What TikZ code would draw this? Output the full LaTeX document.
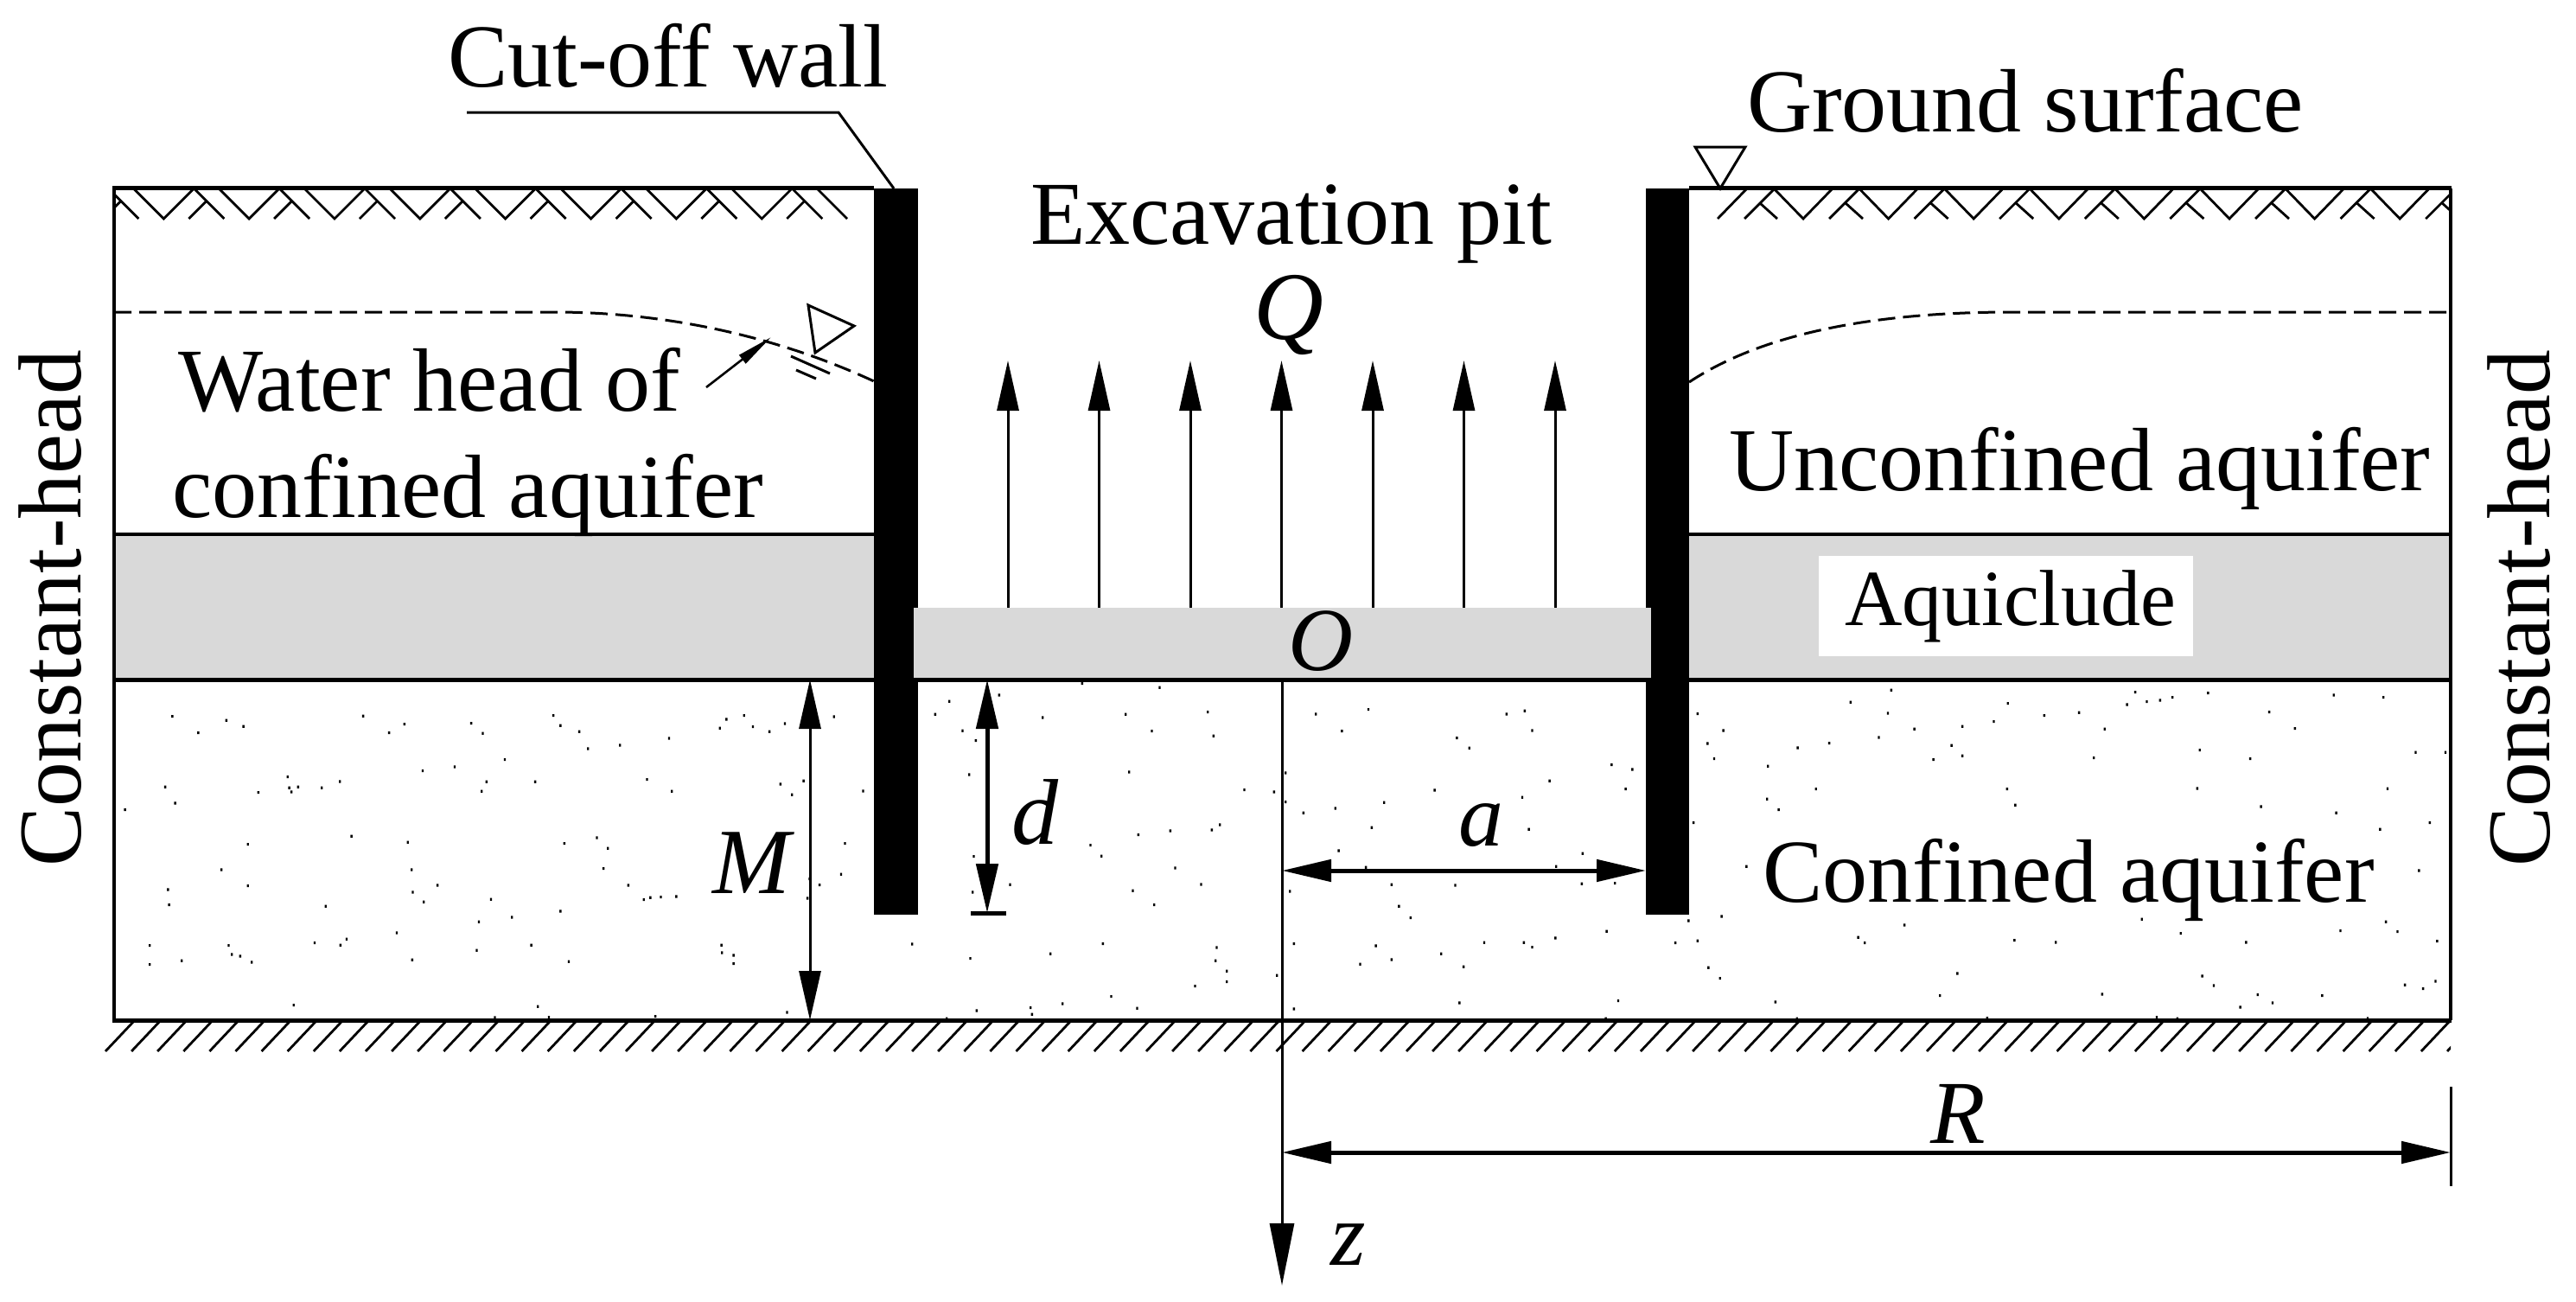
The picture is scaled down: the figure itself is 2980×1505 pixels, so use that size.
\documentclass[tikz,border=0pt]{standalone}
\usepackage{fontspec}
\setmainfont{Liberation Serif}
\usetikzlibrary{arrows.meta}
\definecolor{aqgray}{HTML}{D9D9D9}
\tikzset{
  lab/.style={inner sep=0pt,outer sep=0pt,anchor=base west,font=\fontsize{104}{110}\selectfont},
  labc/.style={lab,anchor=base,font=\fontsize{103.5}{110}\selectfont},
  ital/.style={inner sep=0pt,outer sep=0pt,anchor=base west,font=\fontsize{104}{110}\selectfont\itshape},
  frameline/.style={line width=3.5pt,black},
  layerline/.style={line width=5pt,black},
  groundhatch/.style={line width=2.8pt,black},
  bedhatch/.style={line width=2.8pt,black},
  wallblock/.style={fill=black,draw=none},
  aqblock/.style={fill=aqgray,draw=none},
  wtable/.style={line width=3pt,dash pattern=on 20pt off 9pt},
  wmark/.style={line width=3pt,line join=miter},
  qarrow/.style={line width=3pt,-{Triangle[length=58pt,width=25pt]}},
  dimthin/.style={line width=3pt,{Triangle[length=57pt,width=25pt]}-{Triangle[length=57pt,width=25pt]}},
  dimthick/.style={line width=5pt,{Triangle[length=57pt,width=25pt]}-{Triangle[length=57pt,width=25pt]}}
}
\begin{document}
\begin{tikzpicture}[x=1pt,y=-1pt]
\useasboundingbox (0,0) rectangle (2980,1505);
\fill[white] (0,0) rectangle (2980,1505);

% soil speckle
\begin{scope}[shift={(100,750)},x=0.63776pt,y=-0.33333pt]
\fill \foreach \p/\q in {154/231,252/245,283/266,201/288,500/230,575/258,547/288,696/255,717/290,845/228,858/263,892/284,908/343,966/331,1055/307,1147/272,1159/241,1191/228,1207/267,1237/284,1265/256,1354/232,757/381,666/406,608/420,363/441,458/457,425/479,382/476,366/479,370/493,310/495,141/476,159/532,68/555,724/458,715/491,812/458,1015/450,1060/491,1257/466,1299/455,1278/503,1407/490,479/647,581/668,291/675,865/672,924/652,944/689,1374/672,243/763,588/763,936/759,1367/779,291/819,635/817,981/817,1328/816,146/832,590/841,1068/856,1040/858,1021/860,1009/867,1306/862,148/885,432/890,610/875,732/866,858/907,770/928,710/944,561/982,470/1004,412/1017,459/1025,113/1026,256/1026,805/1025,1150/1025,1151/1051,1172/1060,706/1043,262/1057,277/1063,298/1084,171/1079,113/1092,589/1076,873/1082,1172/1089,374/1233,817/1238,1269/1258,739/1276,837/1275,1030/1272,1310/795} {(\p,\q) rectangle ++(2.4pt,-3.2pt)};
\end{scope}
\begin{scope}[shift={(1050,680)},x=0.33333pt,y=-0.33333pt]
\fill \foreach \p/\q in {141/389,92/434,314/367,187/491,233/525,465/445,602/327,871/341,753/434,844/492,1038/426,1058/509,210/643,765/634,1165/696,1268/703,1308/637,1308/738,1370/776,1413/433,1080/817,1052/835,908/838,797/852,631/888,669/926,226/927,925/967,352/1025,222/1051,1015/1024,778/1046,1323/1048,852/1095,12/1231,214/1281,492/1265,674/1230,1069/1243,1065/1289,1104/1325,1104/1362,1278/1340,1337/1230,994/1377,703/1413,534/1438,423/1452,428/1475,236/1462,132/1490,793/1454,1337/1456} {(\p,\q) rectangle ++(2.4pt,-3.2pt)};
\end{scope}
\begin{scope}[shift={(1400,750)},x=0.95694pt,y=-0.33333pt]
\fill \foreach \p/\q in {190/207,158/282,357/223,379/212,388/280,297/306,312/341,484/399,509/415,409/455,270/487,501/483,376/512,209/530,150/550,194/617,384/623,154/697,449/707,417/752,187/755,218/815,295/817,448/812,488/810,227/890,241/930,478/977,416/1000,330/1016,378/1016,388/1032,199/1027,278/1055,218/1075,180/1091,305/1100,300/1225,492/1218,561/1017,588/1010,577/940,617/925,588/222,619/280,600/325,608/378,673/404,672/518,686/555,731/483,583/600,647/752,709/340,747/324,807/304,850/275,908/266,946/249,1007/228,1049/218,818/220,773/182,822/140,963/186,1107/190,1131/180,1147/175,1162/165,1117/147,1205/150,1080/275,1279/216,1310/273,1357/157,1417/165,895/332,873/381,908/368,1067/375,1195/348,1256/378,1456/356,1492/356,962/483,972/539,1192/481,1422/482,1269/544,1360/566,1473/600,1413/623,1460/766,838/955,1125/935,1172/984,1365/975,1420/944,1434/978,782/998,790/1017,971/1008,1021/1015,1251/1015,1482/1011,601/1103,615/1140,902/1123,1198/1132,1212/1165,1480/1150,1443/1163,1465/1176,881/1200,1077/1195,1265/1197,1343/1200,1283/1225,1244/1240,682/1222,708/1280,938/1278,1143/1275,1168/1280,1398/1279,477/1280} {(\p,\q) rectangle ++(2.4pt,-3.2pt)};
\end{scope}

% walls
\fill[wallblock] (1011,218) rectangle (1062,1058);
\fill[wallblock] (1904,218) rectangle (1954,1058);

% aquiclude
\fill[aqblock] (133,618) rectangle (1011,785);
\fill[aqblock] (1954,618) rectangle (2834,785);
\fill[aqblock] (1057,703) rectangle (1910,784);
\fill[white] (2104,643) rectangle (2537,759);

% frame and layers
\draw[frameline] (132,218) -- (132,1180);
\draw[frameline] (2835,218) -- (2835,1180);
\draw[layerline] (130,217) -- (1011,217);
\draw[layerline] (1954,217) -- (2836,217);
\draw[line width=4pt] (133,618) -- (1011,618);
\draw[line width=4pt] (1954,618) -- (2834,618);
\draw[layerline] (130,786) -- (2836,786);
\draw[layerline] (130,1180) -- (2836,1180);

% ground-surface hatching, left
\begin{scope}
\clip (132,218) rectangle (1011,260);
\foreach \k in {-1,...,7} {
  \pgfmathsetmacro{\a}{189.3+98.85*\k}
  \draw[groundhatch] (\a-35,218) -- (\a,253) -- (\a+35,218) -- (\a+70,253);
  \draw[groundhatch] (\a+29,253) -- (\a+49,233);
}
\draw[groundhatch] (945,218) -- (980,253);
\end{scope}
% ground-surface hatching, right
\begin{scope}
\clip (1954,218) rectangle (2835,260);
\draw[groundhatch] (1987,253) -- (2021,218);
\draw[groundhatch] (2018,253) -- (2053,218);
\draw[groundhatch] (2036,235) -- (2056,253);
\foreach \k in {0,...,7} {
  \pgfmathsetmacro{\a}{2086+98.6*\k}
  \draw[groundhatch] (\a-34,218) -- (\a,253) -- (\a+34,218);
  \draw[groundhatch] (\a+30,253) -- (\a+65,218);
  \draw[groundhatch] (\a+49,235) -- (\a+69,253);
}
\end{scope}
% bedrock hatching
\begin{scope}
\clip (100,1180) rectangle (2835,1217);
\foreach \k in {0,...,90} {
  \draw[bedhatch] (122+30.1*\k,1216) -- (156+30.1*\k,1180);
}
\end{scope}

% water tables
\coordinate (wl0) at (132,361);
\coordinate (wl1) at (642,361);
\coordinate (wl2) at (1011,441);
\coordinate (wr0) at (2835,361);
\coordinate (wr1) at (2327,361);
\coordinate (wr2) at (1954,442);
\draw[wtable] (wl0) -- (wl1) .. controls (760,361) and (890,385) .. (wl2);
\draw[wtable] (wr2) .. controls (2040,385) and (2170,361) .. (wr1) -- (wr0);

% water-level mark
\draw[wmark] (935,353) -- (988,377) -- (943,408) -- cycle;
\draw[wmark] (915,412) -- (960,432);
\draw[wmark] (921,428) -- (944,438);
\coordinate (lead0) at (817,448);
\coordinate (lead1) at (892,390);
\draw[line width=2.6pt,-{Triangle[length=42pt,width=12pt]}] (lead0) -- (lead1);

% ground mark
\draw[wmark] (1961,170) -- (2019,170) -- (1990,218) -- cycle;

% wall leader
\coordinate (cw0) at (540,130);
\coordinate (cw1) at (970,130);
\coordinate (cw2) at (1034,218);
\draw[line width=3pt] (cw0) -- (cw1) -- (cw2);

% pumping arrows
\foreach \i in {-3,...,3} {
  \coordinate (qb\i) at (1482.5+105.5*\i,703);
  \coordinate (qt\i) at (1482.5+105.5*\i,417);
  \draw[qarrow] (qb\i) -- (qt\i);
}

% axis
\coordinate (ax0) at (1483,786);
\coordinate (ax1) at (1483,1487);
\draw[line width=3pt,-{Triangle[length=72pt,width=28pt]}] (ax0) -- (ax1);

% dimensions
\coordinate (m0) at (937,786);
\coordinate (m1) at (937,1180);
\draw[dimthin] (m0) -- (m1);
\coordinate (d0) at (1142,786);
\coordinate (d1) at (1142,1056);
\draw[dimthick] (d0) -- (d1);
\coordinate (dt0) at (1123,1056);
\coordinate (dt1) at (1164,1056);
\draw[layerline] (dt0) -- (dt1);
\coordinate (a0) at (1483,1007);
\coordinate (a1) at (1904,1007);
\draw[dimthick] (a0) -- (a1);
\coordinate (r0) at (1483,1333);
\coordinate (r1) at (2835,1333);
\draw[dimthick] (r0) -- (r1);
\coordinate (rt0) at (2835,1257);
\coordinate (rt1) at (2835,1372);
\draw[line width=3pt] (rt0) -- (rt1);

% labels
\node[lab] (cutoff) at (518,100) {Cut-off wall};
\node[lab] (ground) at (2021,152) {Ground surface};
\node[lab] (excav) at (1192,282) {Excavation pit};
\node[ital,font=\fontsize{112}{110}\selectfont\itshape] (Q) at (1450,392) {Q};
\node[lab] (wh1) at (206,475) {Water head of};
\node[lab] (wh2) at (199,598) {confined aquifer};
\node[lab] (unconf) at (2000,567) {Unconfined aquifer};
\node[lab,font=\fontsize{92}{100}\selectfont] (aquic) at (2134,723) {Aquiclude};
\node[ital] (O) at (1490,775) {O};
\node[ital,font=\fontsize{108}{110}\selectfont\itshape] (dlab) at (1170,976) {d};
\node[ital,font=\fontsize{108}{110}\selectfont\itshape] (Mlab) at (824,1033) {M};
\node[ital] (alab) at (1687,978) {a};
\node[lab] (conf) at (2039,1043) {Confined aquifer};
\node[ital] (Rlab) at (2233,1322) {R};
\node[ital] (zlab) at (1539,1463) {z};
\node[labc,rotate=90] (chl) at (93,704) {Constant-head};
\node[labc,rotate=90] (chr) at (2949,704) {Constant-head};
\end{tikzpicture}
\end{document}
